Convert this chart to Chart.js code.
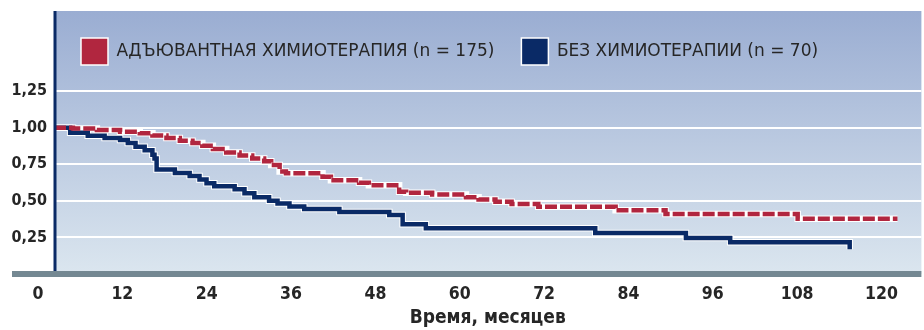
<!DOCTYPE html>
<html>
<head>
<meta charset="utf-8">
<script src="https://cdn.jsdelivr.net/npm/chart.js@4/dist/chart.umd.min.js"></script>
<style>
  html, body { margin: 0; padding: 0; background: #ffffff; }
  #wrap { width: 924px; height: 330px; position: relative; }
</style>
</head>
<body>
<div id="wrap"><canvas id="km"></canvas></div>
<script>
// Kaplan–Meier survival by treatment group (months, survival probability)
const seriesNames = ['АДЪЮВАНТНАЯ ХИМИОТЕРАПИЯ (n = 175)', 'БЕЗ ХИМИОТЕРАПИИ (n = 70)'];

const monthsAdjuvant = [0, 2.7, 6.1, 9.4, 12.2, 14.0, 16.0, 17.9, 19.7, 21.1, 22.6, 24.5, 26.4, 28.2, 29.9, 30.9, 32.1, 33.0, 38.2, 39.4, 43.4, 44.8, 49.1, 50.1, 53.8, 58.6, 60.4, 62.8, 65.1, 68.9, 79.9, 87.0, 105.8, 120.0];
const survAdjuvant  = [1.00, 0.995, 0.984, 0.972, 0.962, 0.947, 0.930, 0.910, 0.895, 0.876, 0.855, 0.830, 0.810, 0.790, 0.770, 0.745, 0.700, 0.688, 0.665, 0.640, 0.624, 0.607, 0.562, 0.555, 0.544, 0.525, 0.510, 0.494, 0.478, 0.460, 0.436, 0.410, 0.377, 0.377];

const monthsNoChemo = [0, 2.3, 4.8, 7.2, 9.4, 10.5, 11.6, 12.9, 14.0, 14.3, 14.6, 17.2, 19.3, 20.7, 21.7, 22.8, 25.7, 27.1, 28.5, 30.6, 31.8, 33.5, 35.6, 40.6, 47.7, 49.6, 52.9, 77.0, 89.9, 96.2, 113.2];
const survNoChemo   = [1.00, 0.965, 0.945, 0.930, 0.915, 0.895, 0.870, 0.845, 0.815, 0.790, 0.715, 0.690, 0.670, 0.645, 0.620, 0.600, 0.580, 0.552, 0.525, 0.500, 0.482, 0.462, 0.445, 0.423, 0.403, 0.340, 0.312, 0.280, 0.246, 0.217, 0.170];

const xTickValues = [0, 12, 24, 36, 48, 60, 72, 84, 96, 108, 120];
const yTickValues = [0.25, 0.50, 0.75, 1.00, 1.25];
const yTickLabels = ['0,25', '0,50', '0,75', '1,00', '1,25'];
const xAxisTitle = 'Время, месяцев';

const RED = '#b1263f';
const NAVY = '#0a2a66';
const TEXT = '#262626';
const FONT_COND = "'DejaVu Sans Condensed', 'DejaVu Sans', sans-serif";

const toPoints = (xs, ys) => xs.map((x, i) => ({ x, y: ys[i] }));
const adjPts = toPoints(monthsAdjuvant, survAdjuvant);
const obsPts = toPoints(monthsNoChemo, survNoChemo);

// gradient panel (legend strip + plot), navy value axis and grey baseline band
const panel = {
  id: 'panel',
  beforeDraw(chart) {
    const { ctx, chartArea: a, legend } = chart;
    const top = legend.top;
    const g = ctx.createLinearGradient(0, top, 0, a.bottom);
    g.addColorStop(0, '#9aadd2');
    g.addColorStop(1, '#dbe6ef');
    ctx.save();
    ctx.fillStyle = g;
    ctx.fillRect(a.left, top, a.right - a.left, a.bottom - top);
    ctx.restore();
  },
  afterDatasetsDraw(chart) {
    const { ctx, chartArea: a, scales, legend } = chart;
    const y0 = scales.y.getPixelForValue(0);
    ctx.save();
    ctx.fillStyle = NAVY;
    ctx.fillRect(a.left - 0.5, legend.top, 3, y0 - legend.top);
    ctx.fillStyle = '#748892';
    ctx.fillRect(12, y0 - 3, a.right - 12, 6);
    ctx.restore();
  }
};

const lineBase = { stepped: true, pointRadius: 0, pointHoverRadius: 0, fill: false, tension: 0 };

new Chart(document.getElementById('km'), {
  type: 'line',
  data: {
    datasets: [
      { ...lineBase, label: seriesNames[0], data: adjPts, borderColor: RED, backgroundColor: RED,
        borderWidth: 4.5, borderDash: [12, 3], borderCapStyle: 'butt', order: 0 },
      { ...lineBase, label: seriesNames[1], data: obsPts, borderColor: NAVY, backgroundColor: NAVY,
        borderWidth: 4.5, order: 1 },
      { ...lineBase, label: '', halo: true, data: adjPts, borderColor: '#ffffff', borderWidth: 6.5, order: 2 },
      { ...lineBase, label: '', halo: true, data: obsPts, borderColor: '#ffffff', borderWidth: 6.5, order: 3 }
    ]
  },
  options: {
    responsive: true,
    maintainAspectRatio: false,
    animation: false,
    events: [],
    layout: { padding: { top: 11, left: 0, right: 0, bottom: 0 } },
    plugins: {
      tooltip: { enabled: false },
      legend: {
        position: 'top',
        align: 'start',
        fullSize: false,
        labels: {
          boxWidth: 27,
          boxHeight: 27,
          padding: 27,
          color: TEXT,
          font: { family: "'DejaVu Sans', sans-serif", size: 17 },
          generateLabels(chart) {
            return chart.data.datasets
              .map((ds, i) => ({ ds, i }))
              .filter(({ ds }) => !ds.halo)
              .map(({ ds, i }) => ({
                text: ds.label,
                fillStyle: ds.backgroundColor,
                strokeStyle: '#ffffff',
                lineWidth: 1.5,
                lineDash: [],
                hidden: false,
                datasetIndex: i,
                fontColor: TEXT
              }));
          }
        }
      }
    },
    scales: {
      x: {
        type: 'linear',
        min: 0,
        max: 123.4,
        afterBuildTicks(scale) { scale.ticks = xTickValues.map(v => ({ value: v })); },
        afterFit(scale) { scale.height = 56; },
        grid: { display: false, drawTicks: false },
        border: { display: false },
        ticks: {
          padding: 10,
          labelOffset: -16,
          color: TEXT,
          maxRotation: 0,
          autoSkip: false,
          font: { family: FONT_COND, size: 17.5, weight: 'bold' }
        },
        title: {
          display: true,
          text: xAxisTitle,
          color: TEXT,
          padding: { top: 0, bottom: 1 },
          font: { family: FONT_COND, size: 19, weight: 'bold' }
        }
      },
      y: {
        type: 'linear',
        min: 0,
        max: 1.36,
        afterBuildTicks(scale) { scale.ticks = yTickValues.map(v => ({ value: v })); },
        afterFit(scale) { scale.width = 54; },
        grid: { color: '#ffffff', lineWidth: 2, drawTicks: false },
        border: { display: false },
        ticks: {
          padding: 7,
          color: TEXT,
          autoSkip: false,
          callback: (v) => yTickLabels[yTickValues.indexOf(v)],
          font: { family: FONT_COND, size: 16, weight: 'bold' }
        }
      }
    }
  },
  plugins: [panel]
});
</script>
</body>
</html>
